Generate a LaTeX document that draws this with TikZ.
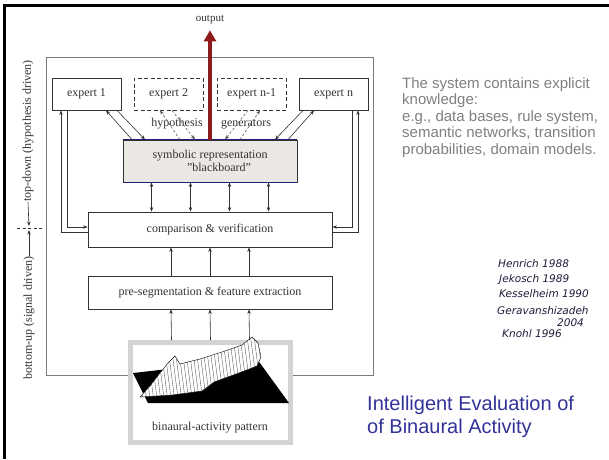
\documentclass[tikz,border=0pt]{standalone}
\usepackage{fontspec}
\setmainfont{Liberation Serif}
\newfontfamily\sansf{Liberation Sans}
\newfontfamily\handf{DejaVu Sans}
\usetikzlibrary{arrows.meta}
\definecolor{ink}{HTML}{333333}
\definecolor{framegray}{HTML}{7A7A7A}
\definecolor{navy}{HTML}{1E1E78}
\definecolor{bbfill}{HTML}{EBE7E3}
\definecolor{outred}{HTML}{8E1B1B}
\definecolor{notegray}{HTML}{808080}
\definecolor{titleblue}{HTML}{333399}
\definecolor{handink}{HTML}{1C1C3A}
\definecolor{imgframe}{HTML}{D3D3D3}
\tikzset{
  expbox/.style={draw=ink, line width=0.8pt, fill=white, inner sep=0pt,
    minimum width=69pt, minimum height=32pt, text=ink,
    font=\fontsize{12}{14}\selectfont},
  dashbox/.style={expbox, dashed, dash pattern=on 4pt off 2.5pt},
  stagebox/.style={draw=ink, line width=0.8pt, fill=white, inner sep=0pt,
    minimum width=244pt, text=ink, font=\fontsize{12}{14}\selectfont},
  arr/.style={draw=ink, line width=0.6pt, -{Stealth[length=4.5pt,width=3.4pt]}},
  darr/.style={draw=ink, line width=0.6pt,
    {Stealth[length=4.5pt,width=3.4pt]}-{Stealth[length=4.5pt,width=3.4pt]}},
  dasharr/.style={draw=ink!80, line width=0.6pt, dash pattern=on 2.5pt off 2pt,
    -{Stealth[length=4.5pt,width=3.4pt]}},
  lbl/.style={inner sep=0pt, text=ink, font=\fontsize{12}{14}\selectfont},
  handtxt/.style={anchor=base west, inner sep=0pt, text=handink,
    font=\handf\itshape\fontsize{10.5}{12}\selectfont},
}
\begin{document}
\begin{tikzpicture}[x=1pt,y=-1pt]
\fill[white] (0,0) rectangle (609,459);
\useasboundingbox (0,0) rectangle (609,459);

% slide edges
\draw[line width=3pt, black] (4,459) -- (4,5) -- (609,5);

% frame around the architecture
\draw[framegray, line width=0.8pt] (46,57) rectangle (373,375);

% experts
\node[expbox]  (e1)  at (86.5,94)  {expert 1};
\node[dashbox] (e2)  at (168.5,94) {expert 2};
\node[dashbox] (en1) at (251.5,94) {expert n-1};
\node[expbox]  (en)  at (333.5,94) {expert n};

% blackboard
\node[draw=ink, line width=0.8pt, fill=bbfill, inner sep=0pt, minimum width=174pt,
      minimum height=42pt, align=center, text=ink,
      font=\fontsize{12}{13.5}\selectfont] (bb) at (210,161)
      {symbolic representation\\\hspace*{18pt}"blackboard"};
\draw[navy, line width=1.6pt] (bb.north west) -- (bb.north east);
\draw[navy, line width=1.6pt] (bb.south west) -- (bb.south east);

% processing stages
\node[stagebox, minimum height=35pt] (cv) at (210,229.5) {comparison \& verification};
\node[stagebox, minimum height=33pt] (ps) at (210,292.5) {pre-segmentation \& feature extraction};

% labels between experts and blackboard
\node[lbl] (hyp) at (177,124) {hypothesis};
\node[lbl] (gen) at (246,124) {generators};

% expert 1 <-> blackboard
\draw[arr] ([xshift=-78pt]bb.north) -- ([xshift=19.5pt]e1.south);
\draw[arr] ([xshift=30.5pt]e1.south) -- ([xshift=-65pt]bb.north);
% expert 2 <-> blackboard
\draw[dasharr] ([xshift=-30pt]bb.north) -- ([xshift=-8.5pt]e2.south);
\draw[dasharr] ([xshift=3.5pt]e2.south) -- ([xshift=-15pt]bb.north);
% expert n-1 <-> blackboard
\draw[dasharr] ([xshift=30pt]bb.north) -- ([xshift=8.5pt]en1.south);
\draw[dasharr] ([xshift=-3.5pt]en1.south) -- ([xshift=15pt]bb.north);
% expert n <-> blackboard
\draw[arr] ([xshift=78pt]bb.north) -- ([xshift=-19.5pt]en.south);
\draw[arr] ([xshift=-30.5pt]en.south) -- ([xshift=65pt]bb.north);

% blackboard <-> comparison
\foreach \dx in {-58.5,-19.5,19.5,58.5}
  \draw[darr] ([xshift=\dx pt]bb.south) -- ([xshift=\dx pt]cv.north);

% feedback loops between outer experts and comparison
\draw[arr] ([yshift=-2.5pt]cv.west) -| ([xshift=-25.5pt]e1.south);
\draw[arr] ([xshift=-19.5pt]e1.south) |- ([yshift=2.5pt]cv.west);
\draw[arr] ([yshift=-2.5pt]cv.east) -| ([xshift=24.5pt]en.south);
\draw[arr] ([xshift=18.5pt]en.south) |- ([yshift=2.5pt]cv.east);

% binaural-activity pattern picture
\node[draw=imgframe, line width=5pt, fill=white, inner sep=0pt,
      minimum width=160pt, minimum height=100pt] (img) at (210.5,392.5) {};
\begin{scope}
  % floor of the surface plot
  \fill[black] (133,373) -- (257,359) -- (289,403) -- (148,403) -- cycle;
  % activity ridges
  \path[fill=white, draw=black, line width=0.4pt, save path=\ridge]
    (140,397) -- (150,386) -- (160,373) -- (168,363) -- (175,356) -- (180,364)
    -- (200,359) -- (222,352) -- (242,345) -- (252,337) -- (258,343) -- (261,357)
    -- (257,366) -- (236,374) -- (214,382) -- (202,391) -- (172,395) -- cycle;
  \clip[use path=\ridge];
  \foreach \s in {128,131.5,...,262}
    \draw[black!70, line width=0.35pt] (\s,336) -- (\s+9,406);
\end{scope}
\node[lbl] (bap) at (210,428) {binaural-activity pattern};

% signal paths up from the picture
\foreach \dx in {-39,0,39} {
  \draw[arr] ([xshift=\dx pt]img.north) -- ([xshift=\dx pt]ps.south);
  \draw[arr] ([xshift=\dx pt]ps.north) -- ([xshift=\dx pt]cv.south);
}

% output of the system: thick shaft with a broad head
\node[inner sep=0pt, text=ink, font=\fontsize{11}{13}\selectfont] (out) at (210,20) {output};
\draw[outred, line width=3.8pt] (bb.north) -- ([yshift=-15pt]out.south);
\fill[outred] ([yshift=-6pt]out.south) -- ([xshift=-6.5pt,yshift=-17pt]out.south)
  -- ([xshift=6.5pt,yshift=-17pt]out.south) -- cycle;

% processing direction along the left edge
\node[lbl, rotate=90] (td) at (28,131) {top-down (hypothesis driven)};
\node[lbl, rotate=90] (bu) at (29,318) {bottom-up (signal driven)};
\coordinate (mk) at (29,228);
\draw[ink, line width=0.6pt, dash pattern=on 3pt off 2.5pt]
  ([xshift=-12pt]mk) -- ([xshift=13pt]mk);
\draw[arr] (td.west) -- ([yshift=2pt]mk);
\draw[arr] (bu.east) -- ([yshift=-2pt]mk);

% explanatory note
\node[anchor=north west, inner sep=0pt, align=left, text=notegray,
      font=\sansf\fontsize{15}{16.6}\selectfont] (note) at (402,77)
  {The system contains explicit\\knowledge:\\e.g., data bases, rule system,\\
   semantic networks, transition\\probabilities, domain models.};

% handwritten references
\node[handtxt] (r1) at (498,267) {Henrich 1988};
\node[handtxt] (r2) at (499,282) {Jekosch 1989};
\node[handtxt] (r3) at (499,297) {Kesselheim 1990};
\node[handtxt] (r4) at (497,314) {Geravanshizadeh};
\node[handtxt] (r5) at (557,326) {2004};
\node[handtxt] (r6) at (502,337) {Knohl 1996};

% title
\node[anchor=north west, inner sep=0pt, align=left, text=titleblue,
      font=\sansf\fontsize{20}{23}\selectfont] (ttl) at (367,396)
  {Intelligent Evaluation of\\of Binaural Activity};
\end{tikzpicture}
\end{document}
